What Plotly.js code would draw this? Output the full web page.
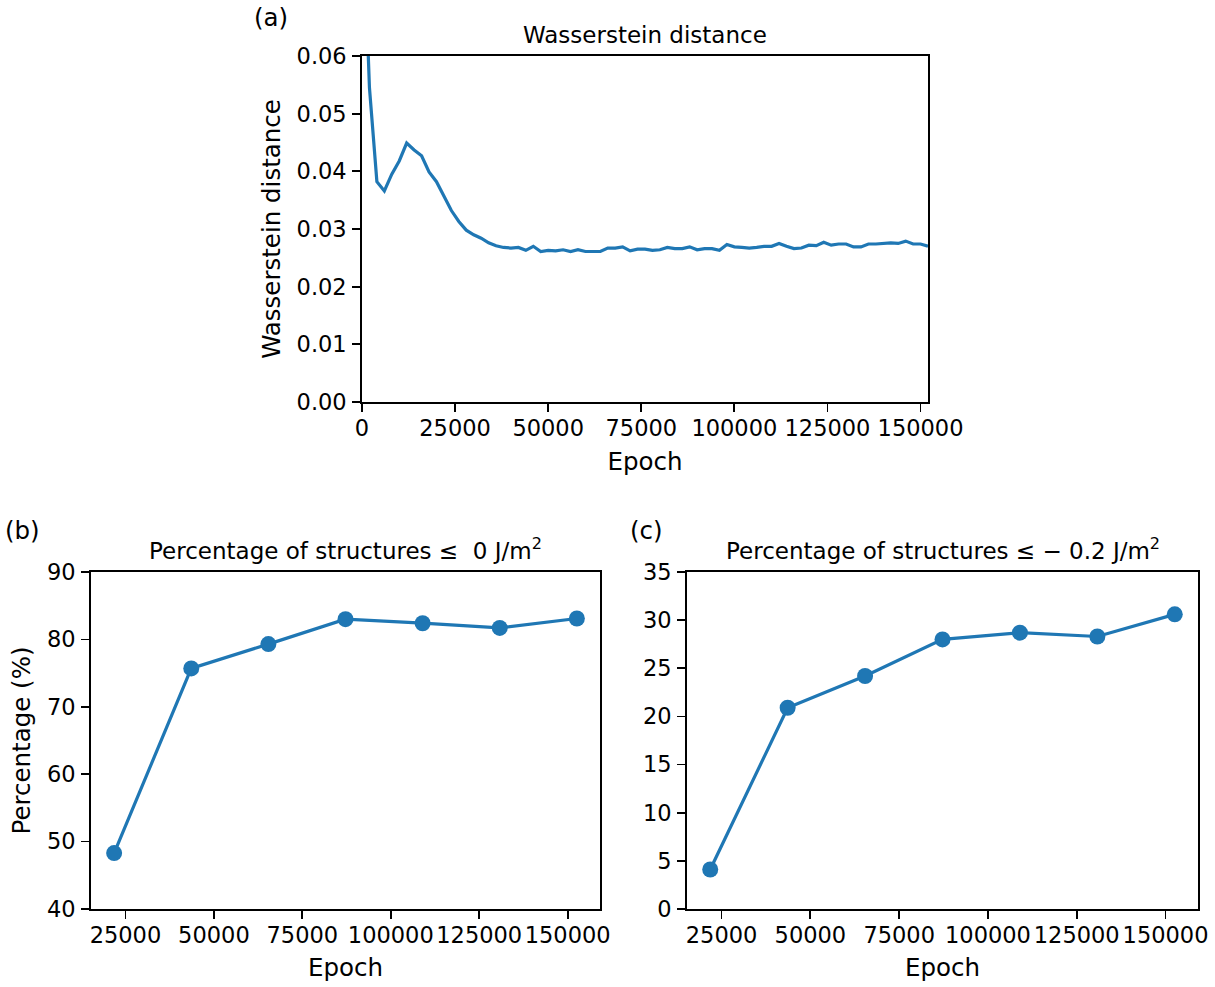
<!DOCTYPE html>
<html>
<head>
<meta charset="utf-8">
<script src="https://cdn.plot.ly/plotly-3.0.1.min.js"></script>
<style>html,body{margin:0;padding:0;background:#fff;}#chart{width:1215px;height:987px;}</style>
</head>
<body>
<div id="chart"></div>
<script>
// (a) Wasserstein distance vs epoch
const wdEpochs = [0,2000,4000,6000,8000,10000,12000,14000,16000,18000,20000,22000,24000,26000,28000,30000,32000,34000,36000,38000,40000,42000,44000,46000,48000,50000,52000,54000,56000,58000,60000,62000,64000,66000,68000,70000,72000,74000,76000,78000,80000,82000,84000,86000,88000,90000,92000,94000,96000,98000,100000,102000,104000,106000,108000,110000,112000,114000,116000,118000,120000,122000,124000,126000,128000,130000,132000,134000,136000,138000,140000,142000,144000,146000,148000,150000,152000];
const wdValues = [0.090,0.0545,0.0382,0.0366,0.0395,0.0418,0.0449,0.0437,0.0427,0.0399,0.0382,0.0358,0.0332,0.0313,0.0298,0.0290,0.0284,0.0276,0.0271,0.0268,0.0267,0.0268,0.0263,0.0270,0.0261,0.0263,0.0262,0.0264,0.0261,0.0264,0.0261,0.0261,0.0261,0.0267,0.0267,0.0269,0.0262,0.0265,0.0265,0.0263,0.0264,0.0268,0.0266,0.0266,0.0269,0.0264,0.0266,0.0266,0.0263,0.0273,0.0269,0.0268,0.0267,0.0268,0.0270,0.0270,0.0275,0.0270,0.0266,0.0267,0.0272,0.0271,0.0277,0.0272,0.0274,0.0274,0.0269,0.0269,0.0274,0.0274,0.0275,0.0276,0.0275,0.0279,0.0274,0.0274,0.0270];

// (b), (c) percentages at checkpoints
const ckptEpochs = [21800,43600,65400,87200,109000,130800,152600];
const pctLe0 = [48.3,75.7,79.3,83.0,82.4,81.7,83.1];
const pctLeM02 = [4.1,20.9,24.2,28.0,28.7,28.3,30.6];

// text
const titleA = "Wasserstein distance";
const titleB = "Percentage of structures \u2264  0 J/m<sup>2</sup>";
const titleC = "Percentage of structures \u2264 \u2212 0.2 J/m<sup>2</sup>";
const xLabel = "Epoch";
const yLabelA = "Wasserstein distance";
const yLabelB = "Percentage (%)";
const panelLabels = ["(a)", "(b)", "(c)"];

const W = 1215, H = 987;
const px = v => v / W;
const py = v => 1 - v / H;

const blue = "#1f77b4";
const font = "DejaVu Sans, sans-serif";
const tickFont = {family: font, size: 22.5, color: "#000"};
const labFont = {family: font, size: 24.5, color: "#000"};
const titleFont = {family: font, size: 23, color: "#000"};

function axisBase(extra) {
  return Object.assign({
    showline: true, mirror: true, linecolor: "#000", linewidth: 1.8,
    ticks: "outside", ticklen: 8, tickwidth: 1.8, tickcolor: "#000",
    showgrid: false, zeroline: false, tickfont: tickFont,
    automargin: false, fixedrange: true
  }, extra);
}

const traces = [
  {x: wdEpochs, y: wdValues, type: "scatter", mode: "lines",
   line: {color: blue, width: 3.2}, xaxis: "x", yaxis: "y", cliponaxis: true, hoverinfo: "skip"},
  {x: ckptEpochs, y: pctLe0, type: "scatter", mode: "lines+markers",
   line: {color: blue, width: 3.2}, marker: {color: blue, size: 16}, xaxis: "x2", yaxis: "y2"},
  {x: ckptEpochs, y: pctLeM02, type: "scatter", mode: "lines+markers",
   line: {color: blue, width: 3.2}, marker: {color: blue, size: 16}, xaxis: "x3", yaxis: "y3"}
];

const xExtra = {ticklabelstandoff: -3};
const yExtra = {ticklabelstandoff: 1};

const layout = {
  width: W, height: H,
  margin: {l: 0, r: 0, t: 0, b: 0},
  paper_bgcolor: "#fff", plot_bgcolor: "#fff",
  showlegend: false,
  font: {family: font, color: "#000"},
  xaxis: axisBase(Object.assign({domain: [px(362), px(928)], range: [0, 152000], tick0: 0, dtick: 25000, tickformat: "d",
    anchor: "y", title: {text: xLabel, font: labFont, standoff: 13}}, xExtra)),
  yaxis: axisBase(Object.assign({domain: [py(402), py(56)], range: [0, 0.06], dtick: 0.01, tickformat: ".2f",
    anchor: "x", title: {text: yLabelA, font: labFont, standoff: 9}}, yExtra)),
  xaxis2: axisBase(Object.assign({domain: [px(91), px(600)], range: [15260, 159140], tick0: 0, dtick: 25000, tickformat: "d",
    anchor: "y2", title: {text: xLabel, font: labFont, standoff: 12}}, xExtra)),
  yaxis2: axisBase(Object.assign({domain: [py(909), py(572)], range: [40, 90], dtick: 10,
    anchor: "x2", title: {text: yLabelB, font: labFont, standoff: 9}}, yExtra)),
  xaxis3: axisBase(Object.assign({domain: [px(687), px(1198)], range: [15260, 159140], tick0: 0, dtick: 25000, tickformat: "d",
    anchor: "y3", title: {text: xLabel, font: labFont, standoff: 12}}, xExtra)),
  yaxis3: axisBase(Object.assign({domain: [py(909), py(572)], range: [0, 35], dtick: 5, anchor: "x3"}, yExtra)),
  annotations: [
    {text: titleA, x: px(645), y: py(35), xref: "paper", yref: "paper", xanchor: "center", yanchor: "middle",
     showarrow: false, font: titleFont},
    {text: titleB, x: px(345.5), y: py(549), xref: "paper", yref: "paper", xanchor: "center", yanchor: "middle",
     showarrow: false, font: titleFont},
    {text: titleC, x: px(942.5), y: py(549), xref: "paper", yref: "paper", xanchor: "center", yanchor: "middle",
     showarrow: false, font: titleFont},
    {text: panelLabels[0], x: px(271), y: py(18), xref: "paper", yref: "paper", xanchor: "center", yanchor: "middle",
     showarrow: false, font: labFont},
    {text: panelLabels[1], x: px(22), y: py(530), xref: "paper", yref: "paper", xanchor: "center", yanchor: "middle",
     showarrow: false, font: labFont},
    {text: panelLabels[2], x: px(646), y: py(530), xref: "paper", yref: "paper", xanchor: "center", yanchor: "middle",
     showarrow: false, font: labFont}
  ]
};

Plotly.newPlot("chart", traces, layout, {staticPlot: true, displayModeBar: false});
</script>
</body>
</html>
